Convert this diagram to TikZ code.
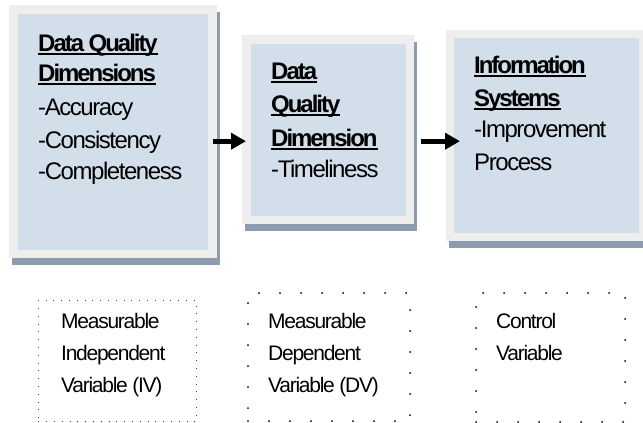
\documentclass[tikz,border=0pt]{standalone}
\usepackage{fontspec}
\setmainfont{Liberation Sans}[LetterSpace=-6, BoldFeatures={LetterSpace=-8.5}]
\usetikzlibrary{calc,shadows,arrows.meta}

\definecolor{framegray}{HTML}{EEEEEE}
\definecolor{panelblue}{HTML}{D2DFEB}
\definecolor{shadowblue}{HTML}{8C9BAE}

% bold heading with a solid underline
\newcommand\undertitle[1]{\setbox0\hbox{\bfseries #1}\rlap{\rule[-4pt]{\wd0}{1.8pt}}\box0}

\begin{document}
\begin{tikzpicture}[x=1pt,y=-1pt,
  panel/.style={fill=framegray, inner sep=0pt, anchor=north west,
    drop shadow={shadow xshift=3pt, shadow yshift=-7pt, fill=shadowblue, opacity=1}},
  bigtxt/.style={anchor=base west, inner sep=0pt, font=\fontsize{24}{28}\selectfont},
  smalltxt/.style={anchor=base west, inner sep=0pt, font=\fontsize{21}{25}\selectfont},
  finedots/.style={draw=black!75, line width=0.9pt, dash pattern=on 0.9pt off 6.9pt,
    inner sep=0pt, anchor=north west},
  coarsedots/.style={draw=black, line width=2pt, line cap=round, dash pattern=on 0pt off 21pt,
    inner sep=0pt, anchor=north west},
  flow/.style={line width=5pt, -{Triangle[length=15pt,width=16pt]}}]

\useasboundingbox (0,0) rectangle (643,423);

% three shaded panels
\node[panel, minimum width=208pt, minimum height=253pt] (b1) at (9,5) {};
\fill[panelblue] ($(b1.north west)+(9,9)$) rectangle ($(b1.south east)+(-9,-8)$);

\node[panel, minimum width=172pt, minimum height=189pt] (b2) at (242,35) {};
\fill[panelblue] ($(b2.north west)+(9,9)$) rectangle ($(b2.south east)+(-8,-8)$);

\node[panel, minimum width=201pt, minimum height=211pt] (b3) at (446,30) {};
\fill[panelblue] ($(b3.north west)+(8,8)$) rectangle ($(b3.south east)+(-8,-8)$);

% panel texts
\node[bigtxt] (t11) at (38,51) {\undertitle{Data Quality}};
\node[bigtxt] (t12) at (38,81) {\undertitle{Dimensions}};
\node[bigtxt] (t13) at (38,115) {-Accuracy};
\node[bigtxt] (t14) at (38,148) {-Consistency};
\node[bigtxt] (t15) at (38,179) {-Completeness};

\node[bigtxt] (t21) at (271,79) {\undertitle{Data}};
\node[bigtxt] (t22) at (271,112) {\undertitle{Quality}};
\node[bigtxt] (t23) at (271,146) {\undertitle{Dimension}};
\node[bigtxt] (t24) at (271,177) {-Timeliness};

\node[bigtxt] (t31) at (474,73) {\undertitle{Information}};
\node[bigtxt] (t32) at (474,106) {\undertitle{Systems}};
\node[bigtxt] (t33) at (474,137) {-Improvement};
\node[bigtxt] (t34) at (474,170) {Process};

% arrows between the panels
\draw[flow] ($(b1.east)+(-4,9.5)$) -- ($(b2.west)+(4,11.5)$);
\draw[flow] ($(b2.east)+(7,11.5)$) -- ($(b3.west)+(14,5.5)$);

% dotted variable boxes
\node[finedots, minimum width=158pt, minimum height=121pt] (v1) at (38,300) {};
\node[coarsedots, minimum width=162pt, minimum height=128pt] (v2) at (247,292) {};
\node[coarsedots, minimum width=149pt, minimum height=129pt] (v3) at (475,292) {};

\node[smalltxt] (s11) at (61,328) {Measurable};
\node[smalltxt] (s12) at (61,360) {Independent};
\node[smalltxt] (s13) at (61,392) {Variable (IV)};

\node[smalltxt] (s21) at (268,328) {Measurable};
\node[smalltxt] (s22) at (268,360) {Dependent};
\node[smalltxt] (s23) at (268,392) {Variable (DV)};

\node[smalltxt] (s31) at (496,328) {Control};
\node[smalltxt] (s32) at (496,360) {Variable};

\end{tikzpicture}
\end{document}
